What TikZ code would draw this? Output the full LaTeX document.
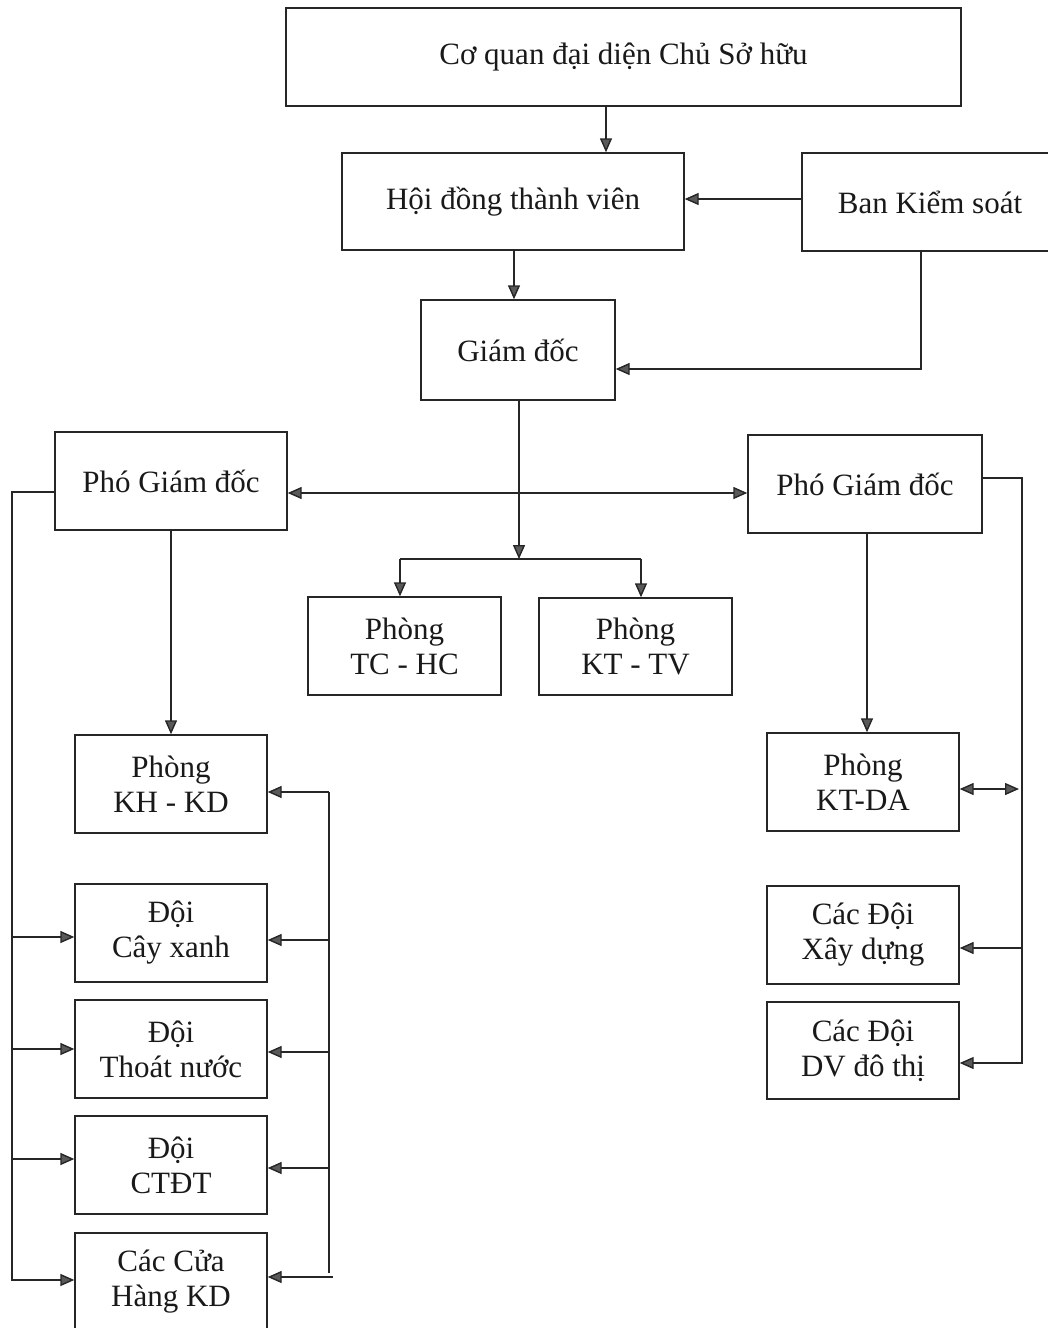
\documentclass[tikz,border=0pt]{standalone}
\usepackage{fontspec}
\setmainfont{Liberation Serif}
\usetikzlibrary{arrows.meta}
\tikzset{
  bx/.style={draw=black!85, line width=1.4pt, rectangle, align=center, inner sep=0pt,
             font=\fontsize{31}{35}\selectfont, text=black!90},
  tip/.style={},
  arr/.style={draw=black!85, line width=1.4pt, -{Triangle[length=14pt,width=12pt,fill=black!65]}},
  darr/.style={draw=black!85, line width=1.4pt, {Triangle[length=14pt,width=12pt,fill=black!65]}-{Triangle[length=14pt,width=12pt,fill=black!65]}},
  ln/.style={draw=black!85, line width=1.4pt},
}
\begin{document}
\begin{tikzpicture}[x=1pt,y=-1pt]
\useasboundingbox (0,0) rectangle (1048,1328);
\node[bx, minimum width=675pt, minimum height=98pt] (top) at (623.5,57) {Cơ quan đại diện Chủ Sở hữu};
\node[bx, minimum width=342pt, minimum height=97pt] (hdtv) at (513,201.5) {Hội đồng thành viên};
\node[bx, minimum width=256pt, minimum height=98pt] (bks) at (930,202) {Ban Kiểm soát};
\node[bx, minimum width=194pt, minimum height=100pt] (gd) at (518,350) {Giám đốc};
\node[bx, minimum width=232pt, minimum height=98pt] (pgdL) at (171,481) {Phó Giám đốc};
\node[bx, minimum width=234pt, minimum height=98pt] (pgdR) at (865,484) {Phó Giám đốc};
\node[bx, minimum width=193pt, minimum height=98pt] (tchc) at (404.5,646) {Phòng\\TC - HC};
\node[bx, minimum width=193pt, minimum height=97pt] (kttv) at (635.5,646.5) {Phòng\\KT - TV};
\node[bx, minimum width=192pt, minimum height=98pt] (khkd) at (171,784) {Phòng\\KH - KD};
\node[bx, minimum width=192pt, minimum height=98pt] (cayxanh) at (171,933) {Đội\\Cây xanh};
\node[bx, minimum width=192pt, minimum height=98pt] (thoatnuoc) at (171,1049) {Đội\\Thoát nước};
\node[bx, minimum width=192pt, minimum height=98pt] (ctdt) at (171,1165) {Đội\\CTĐT};
\node[bx, minimum width=192pt, minimum height=98pt] (cuahang) at (171,1282) {Các Cửa\\Hàng KD};
\node[bx, minimum width=192pt, minimum height=98pt] (ktda) at (863,782) {Phòng\\KT-DA};
\node[bx, minimum width=192pt, minimum height=98pt] (xaydung) at (863,935) {Các Đội\\Xây dựng};
\node[bx, minimum width=192pt, minimum height=97pt] (dvdothi) at (863,1050.5) {Các Đội\\DV đô thị};

% top part
\draw[arr] (606,0 |- top.south) -- (606,0 |- hdtv.north);
\draw[arr] (514,0 |- hdtv.south) -- (514,0 |- gd.north);
\draw[arr] (bks.west |- 0,199) -- (hdtv.east |- 0,199);
\draw[arr] (921,0 |- bks.south) -- (921,369) -- (gd.east |- 0,369);

% director branch
\draw[arr] (519,0 |- gd.south) -- (519,559);
\coordinate (jL) at (400,559);
\coordinate (jR) at (641,559);
\draw[ln] (jL) -- (jR);
\draw[arr] (jL) -- (jL |- tchc.north);
\draw[arr] (jR) -- (jR |- kttv.north);
\draw[darr] (pgdL.east |- 0,493) -- (pgdR.west |- 0,493);

% left deputy
\draw[arr] (pgdL.south) -- (khkd.north);
\coordinate (lb) at (12,492);
\draw[arr] (pgdL.west |- lb) -- (lb) -- (12,1280) -- (cuahang.west |- 0,1280);
\draw[arr] (12,937) -- (cayxanh.west |- 0,937);
\draw[arr] (12,1049) -- (thoatnuoc.west |- 0,1049);
\draw[arr] (12,1159) -- (ctdt.west |- 0,1159);

% right bus of left column
\draw[ln] (329,792) -- (329,1273);
\draw[arr] (329,792) -- (khkd.east |- 0,792);
\draw[arr] (329,940) -- (cayxanh.east |- 0,940);
\draw[arr] (329,1052) -- (thoatnuoc.east |- 0,1052);
\draw[arr] (329,1168) -- (ctdt.east |- 0,1168);
\draw[arr] (333,1277) -- (cuahang.east |- 0,1277);

% right deputy
\draw[arr] (867,0 |- pgdR.south) -- (867,0 |- ktda.north);
\draw[arr] (pgdR.east |- 0,478) -- (1022,478) -- (1022,1063) -- (dvdothi.east |- 0,1063);
\draw[arr] (1022,948) -- (xaydung.east |- 0,948);
\draw[darr] (ktda.east |- 0,789) -- (1019,789);
\end{tikzpicture}
\end{document}
